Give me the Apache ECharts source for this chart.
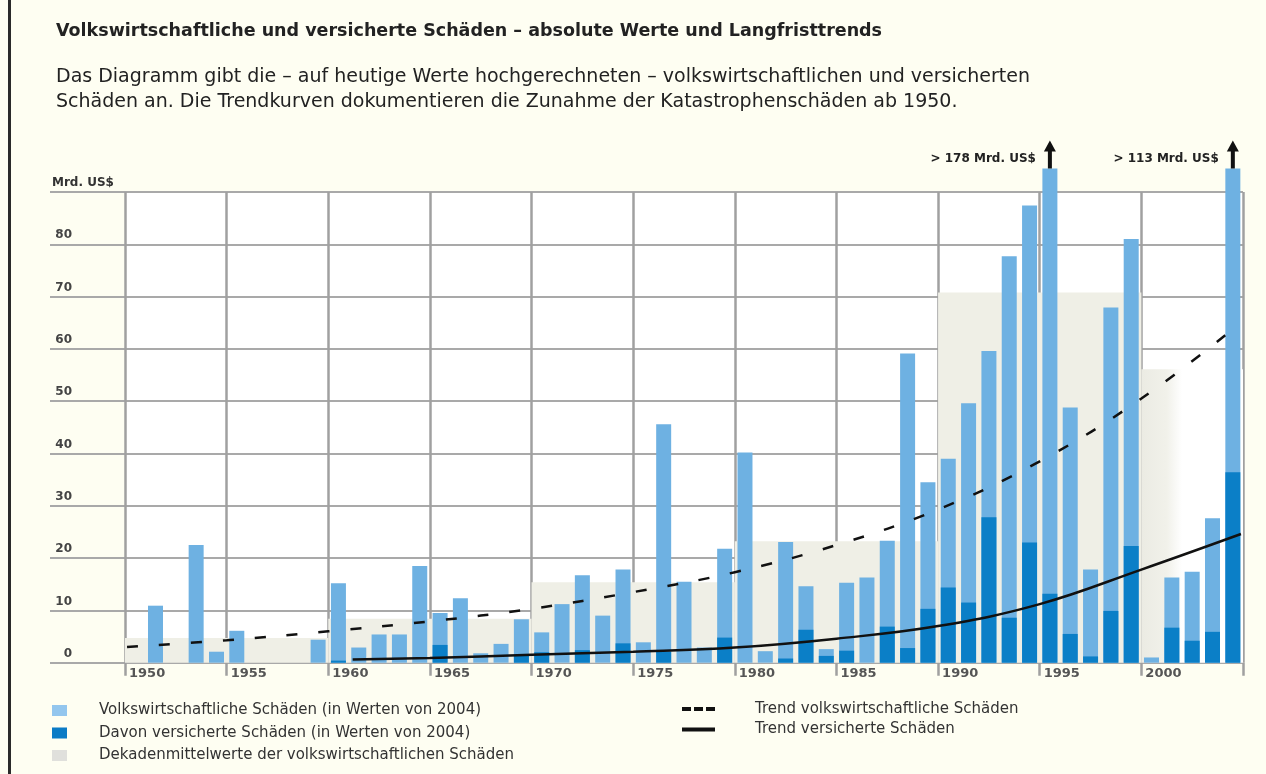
<!DOCTYPE html>
<html><head><meta charset="utf-8">
<script src="https://cdn.jsdelivr.net/npm/echarts@6/dist/echarts.min.js"></script>
<style>
html,body{margin:0;padding:0;background:#fefef2;}
#chart{position:absolute;left:0;top:0;width:1266px;height:774px;}
#edge{position:absolute;left:8px;top:0;width:3px;height:774px;background:#2a2a2a;}
</style></head><body>
<div id="chart"></div><div id="edge"></div>
<script>
// ---------- data ----------
const years = [1950,1951,1952,1953,1954,1955,1956,1957,1958,1959,
               1960,1961,1962,1963,1964,1965,1966,1967,1968,1969,
               1970,1971,1972,1973,1974,1975,1976,1977,1978,1979,
               1980,1981,1982,1983,1984,1985,1986,1987,1988,1989,
               1990,1991,1992,1993,1994,1995,1996,1997,1998,1999,
               2000,2001,2002,2003,2004];
const economicLosses = [0,10.9,0,22.5,2.1,6.1,0,0,0,4.4,
                        15.2,2.9,5.4,5.4,18.5,9.5,12.3,1.8,3.6,8.3,
                        5.8,11.2,16.7,9.0,17.8,3.9,45.6,15.5,2.9,21.8,
                        40.2,2.2,23.1,14.6,2.6,15.3,16.3,23.3,59.1,34.5,
                        39.0,49.6,59.6,77.7,87.4,178,48.8,17.8,67.9,81.0,
                        1.0,16.3,17.4,27.6,113];
const insuredLosses = [0,0,0,0,0,0,0,0,0,0,
                       0.4,0,0,0,0,3.4,0,0,0,1.5,
                       2.0,0,2.4,0,3.7,0,2.1,0,0,4.8,
                       0,0,0.8,6.3,1.3,2.3,0,6.9,2.8,10.3,
                       14.4,11.5,27.8,8.6,23.0,13.2,5.5,1.2,9.9,22.3,
                       0,6.7,4.2,5.9,36.4];
const decadeStart = [1950,1960,1970,1980,1990,2000];
const decadeEnd   = [1960,1970,1980,1990,2000,2005];
const decadeMean  = [4.7,8.4,15.4,23.2,70.8,56.1];
const trendEconomicYears  = [1950.1,1955,1960,1965,1970,1975,1980,1985,1990,1995,2000,2004.9];
const trendEconomicValues = [3.0,4.3,6.0,7.9,10.3,13.5,17.3,22.5,29.3,38.5,50.5,65.0];
const trendInsuredYears  = [1961.2,1965,1970,1975,1980,1985,1990,1995,2000,2004.9];
const trendInsuredValues = [0.6,0.9,1.5,2.1,2.9,4.6,7.0,11.2,17.8,24.6];

const nameEco = 'Volkswirtschaftliche Schäden (in Werten von 2004)';
const nameIns = 'Davon versicherte Schäden (in Werten von 2004)';
const nameDec = 'Dekadenmittelwerte der volkswirtschaftlichen Schäden';
const nameTrendEco = 'Trend volkswirtschaftliche Schäden';
const nameTrendIns = 'Trend versicherte Schäden';
const unitLabel = 'Mrd. US$';

// ---------- layout constants ----------
const FONT = 'DejaVu Sans';
const GRID_BOTTOM = 111.3;
const GRID_TOP = 192;
const Y_MAX = 90;
const PX_PER_UNIT = (774 - GRID_BOTTOM - GRID_TOP) / Y_MAX;
const Y_MAX_B = 94.5;
const GRID_B_TOP = 774 - GRID_BOTTOM - Y_MAX_B * PX_PER_UNIT;
const X_MIN = 1950, X_MAX = 2005;

const barEco = years.map((y, i) => [y + 0.5, economicLosses[i]]);
const barIns = years.map((y, i) => [y + 0.5, insuredLosses[i]]);
const decadeData = decadeStart.map((s, i) => [s, decadeEnd[i], decadeMean[i]]);
const trendEco = trendEconomicYears.map((y, i) => [y, trendEconomicValues[i]]);
const trendIns = trendInsuredYears.map((y, i) => [y, trendInsuredValues[i]]);

const offScale = years.map((y, i) => ({y, v: economicLosses[i]})).filter(d => d.v > Y_MAX_B)
  .map(d => ({
    coord: [d.y + 0.5, Y_MAX_B],
    label: {formatter: '> ' + d.v + ' ' + unitLabel}
  }));

const chart = echarts.init(document.getElementById('chart'), null, {renderer: 'canvas'});

const option = {
  backgroundColor: '#fefef2',
  animation: false,
  title: [
    {
      text: 'Volkswirtschaftliche und versicherte Schäden – absolute Werte und Langfristtrends',
      left: 56, top: 21, padding: 0,
      textStyle: {fontFamily: FONT, fontSize: 17.5, fontWeight: 'bold', color: '#222', lineHeight: 20}
    },
    {
      text: 'Das Diagramm gibt die – auf heutige Werte hochgerechneten – volkswirtschaftlichen und versicherten\nSchäden an. Die Trendkurven dokumentieren die Zunahme der Katastrophenschäden ab 1950.',
      left: 56, top: 64, padding: 0,
      textStyle: {fontFamily: FONT, fontSize: 19, fontWeight: 'normal', color: '#222', lineHeight: 25.5}
    }
  ],
  legend: [
    {
      left: 52, top: 703, orient: 'vertical', selectedMode: false, padding: 0,
      itemWidth: 15, itemHeight: 11, itemGap: 7.5, icon: 'rect',
      itemStyle: {borderWidth: 0},
      textStyle: {fontFamily: FONT, fontSize: 15, color: '#333', lineHeight: 15, padding: [0, 0, 0, 27]},
      data: [
        {name: nameEco, itemStyle: {color: '#93c6ee'}},
        {name: nameIns, itemStyle: {color: '#0b7bc6'}},
        {name: nameDec, itemStyle: {color: '#e0e0dc'}}
      ]
    },
    {
      left: 682, top: 701.5, orient: 'vertical', selectedMode: false, padding: 0,
      itemWidth: 33, itemHeight: 4, itemGap: 5.5,
      itemStyle: {borderWidth: 0},
      textStyle: {fontFamily: FONT, fontSize: 15, color: '#333', lineHeight: 15, padding: [0, 0, 0, 35]},
      data: [
        {name: nameTrendEco, icon: 'path://M0,0h9v4h-9z M12,0h9v4h-9z M24,0h9v4h-9z', itemStyle: {color: '#111'}},
        {name: nameTrendIns, icon: 'path://M0,0h33v4h-33z', itemStyle: {color: '#111'}}
      ]
    }
  ],
  grid: [
    // A: horizontal grid lines + y labels (extends to the left)
    {left: 50, right: 23, top: GRID_TOP, bottom: GRID_BOTTOM},
    // C: white plot area, vertical lines, year labels
    {left: 125, right: 23, top: GRID_TOP, bottom: GRID_BOTTOM, show: true, backgroundColor: '#ffffff', borderWidth: 0, z: -1},
    // B: data marks (slightly taller so off-scale bars rise above the frame)
    {left: 125, right: 23, top: GRID_B_TOP, bottom: GRID_BOTTOM}
  ],
  xAxis: [
    {gridIndex: 0, type: 'value', min: 0, max: 1, show: false},
    {
      gridIndex: 1, type: 'value', min: X_MIN, max: X_MAX, interval: 5,
      axisLine: {show: false},
      axisTick: {show: true, length: 13, lineStyle: {color: '#a0a0a0', width: 2.5}},
      splitLine: {show: true, lineStyle: {color: '#a0a0a0', width: 2.5}},
      axisLabel: {
        margin: 4, align: 'left', padding: [0, 0, 0, 4],
        fontFamily: FONT, fontSize: 13, fontWeight: 'bold', color: '#555',
        showMaxLabel: true,
        formatter: v => (v >= X_MAX ? '' : String(v))
      }
    },
    {gridIndex: 2, type: 'value', min: X_MIN, max: X_MAX, show: false}
  ],
  yAxis: [
    {
      gridIndex: 0, type: 'value', min: 0, max: Y_MAX, interval: 10,
      axisLine: {show: false}, axisTick: {show: false},
      splitLine: {show: true, lineStyle: {color: '#a9a9a9', width: 2}},
      axisLabel: {
        inside: true, margin: 2, verticalAlign: 'bottom', padding: [0, 0, 3, 0],
        showMinLabel: true, showMaxLabel: true,
        formatter: v => (v === Y_MAX ? '{u|' + unitLabel + '}' : '{n|' + v + '}'),
        rich: {
          n: {width: 20, align: 'right', fontFamily: FONT, fontSize: 12, fontWeight: 'bold', color: '#444'},
          u: {fontFamily: FONT, fontSize: 12, fontWeight: 'bold', color: '#333'}
        }
      }
    },
    {gridIndex: 1, type: 'value', min: 0, max: Y_MAX, show: false},
    {gridIndex: 2, type: 'value', min: 0, max: Y_MAX_B, show: false}
  ],
  series: [
    {
      name: nameDec, type: 'custom', xAxisIndex: 2, yAxisIndex: 2, z: 1,
      itemStyle: {color: '#efefe6'},
      encode: {x: [0, 1], y: 2},
      data: decadeData,
      renderItem: (params, api) => {
        const p0 = api.coord([api.value(0), api.value(2)]);
        const p1 = api.coord([api.value(1), 0]);
        const last = params.dataIndex === decadeData.length - 1;
        const fill = last
          ? new echarts.graphic.LinearGradient(0, 0, 1, 0, [
              {offset: 0, color: '#ebebe3'}, {offset: 0.25, color: '#f1f1ea'},
              {offset: 0.4, color: '#ffffff'}, {offset: 1, color: '#ffffff'}])
          : '#efefe6';
        return {
          type: 'rect',
          shape: {x: p0[0], y: p0[1], width: p1[0] - p0[0], height: p1[1] - p0[1]},
          style: {fill: fill}
        };
      }
    },
    {
      name: nameEco, type: 'bar', xAxisIndex: 2, yAxisIndex: 2, z: 2,
      barWidth: 15, barGap: '-100%',
      itemStyle: {color: '#6eb1e2'},
      data: barEco,
      markPoint: {
        symbol: 'path://M6,0 L12,11 L8,11 L8,28 L4,28 L4,11 L0,11 Z',
        symbolSize: [12, 28], symbolOffset: [0, '-50%'],
        itemStyle: {color: '#111'},
        label: {show: true, position: 'left', distance: 8, offset: [0, 4],
                fontFamily: FONT, fontSize: 12, fontWeight: 'bold', color: '#222'},
        data: offScale
      }
    },
    {
      name: nameIns, type: 'bar', xAxisIndex: 2, yAxisIndex: 2, z: 3,
      barWidth: 15, barGap: '-100%',
      itemStyle: {color: '#0b7fc7'},
      data: barIns
    },
    {
      name: nameTrendEco, type: 'line', xAxisIndex: 2, yAxisIndex: 2, z: 5,
      smooth: 0.4, showSymbol: false, symbol: 'none',
      itemStyle: {color: '#111'},
      lineStyle: {color: '#111', width: 2.5, type: [11, 21]},
      data: trendEco
    },
    {
      name: nameTrendIns, type: 'line', xAxisIndex: 2, yAxisIndex: 2, z: 5,
      smooth: 0.4, showSymbol: false, symbol: 'none',
      itemStyle: {color: '#111'},
      lineStyle: {color: '#111', width: 2.5},
      data: trendIns
    }
  ]
};
chart.setOption(option);
</script>
</body></html>
